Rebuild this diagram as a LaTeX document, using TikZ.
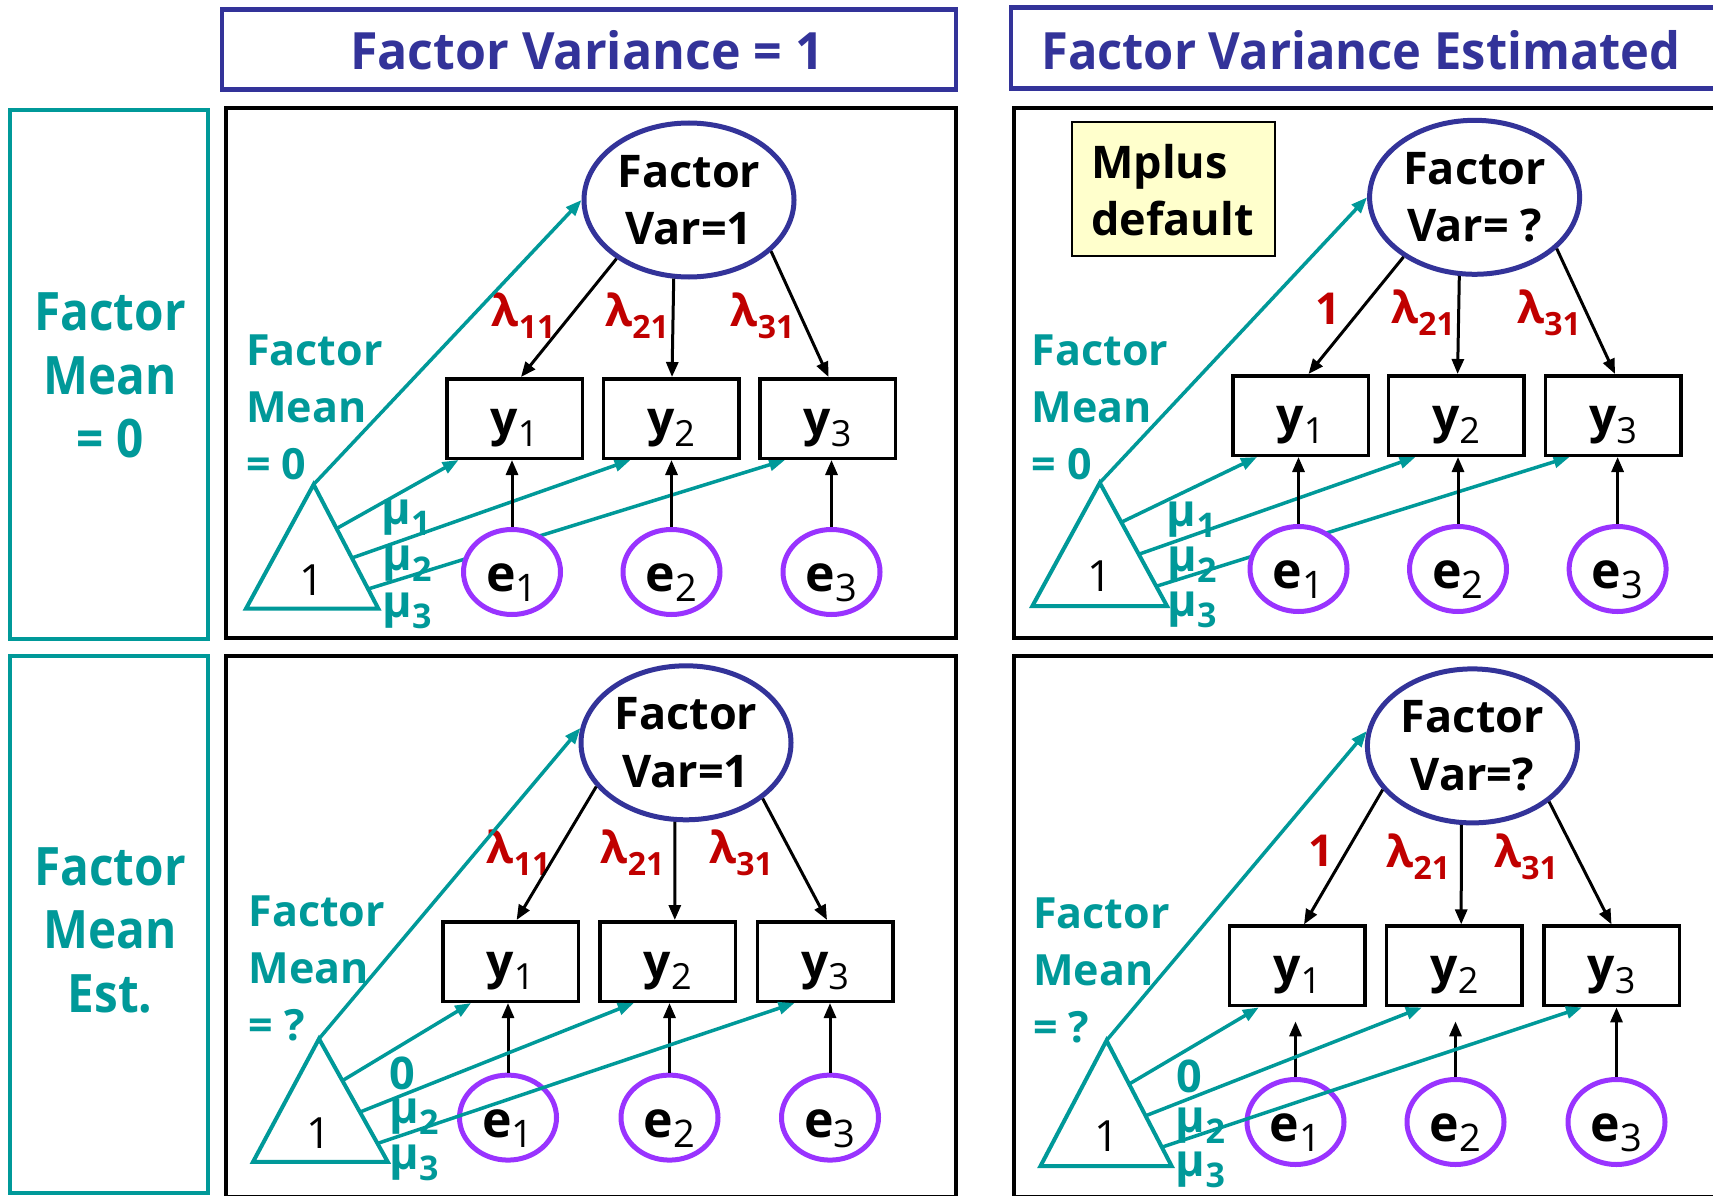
\documentclass[tikz,border=0pt]{standalone}
\usepackage{fontspec}
\setmainfont{Open Sans}
\newfontfamily\hdrAfont[FakeStretch=0.975]{Open Sans}
\newfontfamily\hdrBfont[FakeStretch=0.95]{Open Sans}
\newfontfamily\colfont[FakeStretch=0.9]{Open Sans}
\usetikzlibrary{arrows.meta,calc,shapes.geometric,backgrounds}
\definecolor{navy}{RGB}{51,51,153}
\definecolor{tealc}{RGB}{0,153,153}
\definecolor{redc}{RGB}{192,0,0}
\definecolor{purp}{RGB}{153,51,255}
\definecolor{mplusbg}{RGB}{255,255,204}
\newcommand\fs[2]{\fontsize{#1}{#2}\selectfont}
\newcommand\ysub[1]{{\mdseries\fs{36}{36}\raisebox{-11pt}{#1}}}
\newcommand\esub[1]{{\mdseries\fs{38}{38}\raisebox{-10pt}{#1}}}
\newcommand\lsub[1]{{\fs{32}{32}\raisebox{-12pt}{#1}}}
\newcommand\msub[1]{{\fs{34}{34}\raisebox{-11pt}{#1}}}
\tikzset{
  lat/.style={ellipse, draw=navy, line width=5pt, fill=white, minimum width=210pt, minimum height=154pt, inner sep=0pt, align=center, font=\bfseries\fs{45}{57.6}},
  obs/.style={rectangle, draw=black, line width=3.5pt, fill=white, minimum width=135.5pt, minimum height=79.5pt, inner sep=0pt, font=\bfseries\fs{48}{48}, text height=45pt, text depth=12pt},
  err/.style={ellipse, draw=purp, line width=5pt, fill=white, minimum width=97pt, minimum height=85pt, inner sep=0pt, font=\bfseries\fs{50}{50}, text height=48.8pt, text depth=10pt},
  lam/.style={text=redc, font=\bfseries\fs{44}{50}, inner sep=0pt},
  mulab/.style={text=tealc, font=\bfseries\fs{45}{50}, inner sep=0pt},
  onelab/.style={text=black, font=\fs{43}{43}, inner sep=0pt},
  mtxt/.style={text=tealc, font=\bfseries\fs{43}{57}, align=left, inner sep=0pt, anchor=north west},
  coltxt/.style={text=tealc, font=\colfont\bfseries\fs{53}{63.5}, align=center, inner sep=0pt, anchor=north},
  hdrtxt/.style={text=navy, inner sep=0pt},
  load/.style={draw=black, line width=3pt, -{Triangle[length=15pt,width=12pt]}},
  meanarr/.style={draw=tealc, line width=3.5pt, -{Triangle[length=16pt,width=12pt]}},
  tri/.style={draw=tealc, line width=4pt, line join=miter},
  panel/.style={draw=black, line width=4pt},
  colbox/.style={draw=tealc, line width=4pt},
  hdrbox/.style={draw=navy, line width=4.3pt},
}
\begin{document}
\begin{tikzpicture}[x=1pt,y=-1pt]
\useasboundingbox (0,0) rectangle (1713,1196);
\begin{pgfonlayer}{background}
  \fill[white] (0,0) rectangle (1713,1196);
\end{pgfonlayer}

% headers
\draw[hdrbox] (222,9.5) rectangle (956,89.5);
\node[hdrtxt, anchor=base, font=\hdrAfont\bfseries\fs{51.4}{60}] (h1) at (587,70) {Factor Variance = 1};
\draw[hdrbox] (1011,7.5) rectangle (1730,88.5);
\node[hdrtxt, anchor=base west, font=\hdrBfont\bfseries\fs{51.4}{60}] (h2) at (1041,70) {Factor Variance Estimated};

% left column
\draw[colbox] (10,110) rectangle (208,639);
\node[coltxt] (c1) at (110,292.5) {Factor\\Mean\\= 0};
\draw[colbox] (10,656) rectangle (208,1193);
\node[coltxt] (c2) at (110,847) {Factor\\Mean\\Est.};

% panel frames
\draw[panel] (225.5,108.5) rectangle (956,637.5);
\draw[panel] (1013.5,108.5) rectangle (1730,637.5);
\draw[panel] (225.5,656) rectangle (956,1197);
\draw[panel] (1013.5,656) rectangle (1730,1197);

%%%%%%%%%% TOP LEFT
\node[lat] (tl-F) at (689,200) {Factor\\Var=1};
\node[obs] (tl-y1) at (514.5,418.5) {y\ysub{1}};
\node[obs] (tl-y2) at (671,418.5) {y\ysub{2}};
\node[obs] (tl-y3) at (827.5,418.5) {y\ysub{3}};
\node[err] (tl-e1) at (512,572) {e\esub{1}};
\node[err] (tl-e2) at (671.5,572) {e\esub{2}};
\node[err] (tl-e3) at (831.5,572) {e\esub{3}};
\coordinate (tl-A) at (313.6,484.5);
\coordinate (tl-B) at (246,608.6);
\coordinate (tl-C) at (378.3,608.6);
\draw[tri] (tl-A) -- (tl-B) -- (tl-C) -- cycle;
\node[onelab] (tl-one) at (312,580) {1};
\node[mtxt] (tl-mean) at (246,334.5) {Factor\\Mean\\= 0};
\node[lam] (tl-l1) at (523.5,315.5) {λ\lsub{11}};
\node[lam] (tl-l2) at (637,315.5) {λ\lsub{21}};
\node[lam] (tl-l3) at (762.5,315.5) {λ\lsub{31}};
\node[mulab] (tl-m1) at (406,518) {μ\msub{1}};
\node[mulab] (tl-m2) at (407,564) {μ\msub{2}};
\node[mulab] (tl-m3) at (407,611) {μ\msub{3}};
\draw[load] (tl-F.219) -- ([xshift=6.5pt]tl-y1.north);
\draw[load] (tl-F.259) -- ([xshift=1pt]tl-y2.north);
\draw[load] (tl-F.328) -- ([xshift=1pt]tl-y3.north);
\draw[load] (tl-e1.north) -- (tl-e1.north |- tl-y1.south);
\draw[load] (tl-e2.north) -- (tl-e2.north |- tl-y2.south);
\draw[load] (tl-e3.north) -- (tl-e3.north |- tl-y3.south);
\draw[meanarr] (tl-A) -- (tl-F.west);
\begin{pgfonlayer}{background}
\draw[meanarr] ($(tl-A)!0.355!(tl-C)$) -- ([xshift=13.6pt]tl-y1.south west);
\draw[meanarr] ($(tl-A)!0.592!(tl-C)$) -- ([xshift=29pt]tl-y2.south west);
\draw[meanarr] ($(tl-A)!0.842!(tl-C)$) -- ([xshift=27pt]tl-y3.south west);
\end{pgfonlayer}

%%%%%%%%%% TOP RIGHT
\node[draw=black, line width=2pt, fill=mplusbg, minimum width=203pt, minimum height=134pt, inner sep=0pt] (tr-mp) at (1173.2,188.9) {};
\node[anchor=north west, align=left, inner sep=0pt, font=\bfseries\fs{45}{57}] (tr-mptxt) at (1091,144) {Mplus\\default};
\node[lat] (tr-F) at (1474.6,197.3) {Factor\\Var= ?};
\node[obs] (tr-y1) at (1300.5,415.5) {y\ysub{1}};
\node[obs] (tr-y2) at (1456,415.5) {y\ysub{2}};
\node[obs] (tr-y3) at (1613,415.5) {y\ysub{3}};
\node[err] (tr-e1) at (1298.5,569) {e\esub{1}};
\node[err] (tr-e2) at (1458,569) {e\esub{2}};
\node[err] (tr-e3) at (1617.6,569) {e\esub{3}};
\coordinate (tr-A) at (1099.8,482.8);
\coordinate (tr-B) at (1032.4,606);
\coordinate (tr-C) at (1167,606);
\draw[tri] (tr-A) -- (tr-B) -- (tr-C) -- cycle;
\node[onelab] (tr-one) at (1099.8,576) {1};
\node[mtxt] (tr-mean) at (1031.5,334.5) {Factor\\Mean\\= 0};
\node[lam] (tr-l1) at (1327.6,308.5) {1};
\node[lam] (tr-l2) at (1423,313) {λ\lsub{21}};
\node[lam] (tr-l3) at (1549,313) {λ\lsub{31}};
\node[mulab] (tr-m1) at (1191.5,520) {μ\msub{1}};
\node[mulab] (tr-m2) at (1192,565) {μ\msub{2}};
\node[mulab] (tr-m3) at (1192,610) {μ\msub{3}};
\draw[load] (tr-F.220.5) -- ([xshift=8pt]tr-y1.north);
\draw[load] (tr-F.259) -- ([xshift=1.6pt]tr-y2.north);
\draw[load] (tr-F.328.7) -- ([xshift=2pt]tr-y3.north);
\draw[load] (tr-e1.north) -- (tr-e1.north |- tr-y1.south);
\draw[load] (tr-e2.north) -- (tr-e2.north |- tr-y2.south);
\draw[load] (tr-e3.north) -- (tr-e3.north |- tr-y3.south);
\draw[meanarr] (tr-A) -- (tr-F.west);
\begin{pgfonlayer}{background}
\draw[meanarr] ($(tr-A)!0.32!(tr-C)$) -- ([xshift=26pt]tr-y1.south west);
\draw[meanarr] ($(tr-A)!0.58!(tr-C)$) -- ([xshift=29pt]tr-y2.south west);
\draw[meanarr] ($(tr-A)!0.84!(tr-C)$) -- ([xshift=26pt]tr-y3.south west);
\end{pgfonlayer}

%%%%%%%%%% BOTTOM LEFT
\node[lat] (bl-F) at (686,742.8) {Factor\\Var=1};
\node[obs] (bl-y1) at (510.6,961.5) {y\ysub{1}};
\node[obs] (bl-y2) at (667.8,961.5) {y\ysub{2}};
\node[obs] (bl-y3) at (825,961.5) {y\ysub{3}};
\node[err] (bl-e1) at (508,1117.6) {e\esub{1}};
\node[err] (bl-e2) at (669.5,1117.6) {e\esub{2}};
\node[err] (bl-e3) at (830,1117.6) {e\esub{3}};
\coordinate (bl-A) at (319,1038.8);
\coordinate (bl-B) at (253,1161.9);
\coordinate (bl-C) at (387.8,1161.9);
\draw[tri] (bl-A) -- (bl-B) -- (bl-C) -- cycle;
\node[onelab] (bl-one) at (319,1133) {1};
\node[mtxt] (bl-mean) at (248.4,895.8) {Factor\\Mean\\= ?};
\node[lam] (bl-l1) at (518.6,853) {λ\lsub{11}};
\node[lam] (bl-l2) at (632.6,853) {λ\lsub{21}};
\node[lam] (bl-l3) at (741,853) {λ\lsub{31}};
\node[mulab] (bl-m1) at (402,1073.5) {0};
\node[mulab] (bl-m2) at (414,1117) {μ\msub{2}};
\node[mulab] (bl-m3) at (414,1163) {μ\msub{3}};
\draw[load] (bl-F.206) -- ([xshift=6pt]bl-y1.north);
\draw[load] (bl-F.262) -- ([xshift=7pt]bl-y2.north);
\draw[load] (bl-F.324.4) -- ([xshift=2pt]bl-y3.north);
\draw[load] (bl-e1.north) -- (bl-e1.north |- bl-y1.south);
\draw[load] (bl-e2.north) -- (bl-e2.north |- bl-y2.south);
\draw[load] (bl-e3.north) -- (bl-e3.north |- bl-y3.south);
\draw[meanarr] (bl-A) -- (bl-F.172);
\draw[meanarr] ($(bl-A)!0.34!(bl-C)$) -- ([xshift=30pt]bl-y1.south west);
\draw[meanarr] ($(bl-A)!0.595!(bl-C)$) -- ([xshift=35.5pt]bl-y2.south west);
\draw[meanarr] ($(bl-A)!0.85!(bl-C)$) -- ([xshift=39pt]bl-y3.south west);

%%%%%%%%%% BOTTOM RIGHT
\node[lat] (br-F) at (1472.4,745.9) {Factor\\Var=?};
\node[obs] (br-y1) at (1297.3,965.9) {y\ysub{1}};
\node[obs] (br-y2) at (1454.4,965.9) {y\ysub{2}};
\node[obs] (br-y3) at (1611.5,965.9) {y\ysub{3}};
\node[err] (br-e1) at (1295.5,1122) {e\esub{1}};
\node[err] (br-e2) at (1455.5,1122) {e\esub{2}};
\node[err] (br-e3) at (1616.5,1122) {e\esub{3}};
\coordinate (br-A) at (1106.5,1040.5);
\coordinate (br-B) at (1040.5,1166);
\coordinate (br-C) at (1171.6,1166);
\draw[tri] (br-A) -- (br-B) -- (br-C) -- cycle;
\node[onelab] (br-one) at (1106.5,1136.4) {1};
\node[mtxt] (br-mean) at (1033,898) {Factor\\Mean\\= ?};
\node[lam] (br-l1) at (1321.4,851) {1};
\node[lam] (br-l2) at (1418.3,856.5) {λ\lsub{21}};
\node[lam] (br-l3) at (1526,856.5) {λ\lsub{31}};
\node[mulab] (br-m1) at (1189.5,1076) {0};
\node[mulab] (br-m2) at (1200.5,1126) {μ\msub{2}};
\node[mulab] (br-m3) at (1200.5,1170) {μ\msub{3}};
\draw[load] (br-F.206.5) -- ([xshift=6.7pt]br-y1.north);
\draw[load] (br-F.262) -- ([xshift=6.8pt]br-y2.north);
\draw[load] (br-F.324.6) -- (br-y3.north);
\draw[load] (br-e1.north) -- ([yshift=-14pt]br-e1.north |- br-y1.south);
\draw[load] (br-e2.north) -- ([yshift=-14pt]br-e2.north |- br-y2.south);
\draw[load] (br-e3.north) -- (br-e3.north |- br-y3.south);
\draw[meanarr] (br-A) -- (br-F.172.3);
\draw[meanarr] ($(br-A)!0.347!(br-C)$) -- ([xshift=31pt]br-y1.south west);
\draw[meanarr] ($(br-A)!0.6!(br-C)$) -- ([xshift=37pt]br-y2.south west);
\draw[meanarr] ($(br-A)!0.85!(br-C)$) -- ([xshift=40pt]br-y3.south west);
\end{tikzpicture}
\end{document}
